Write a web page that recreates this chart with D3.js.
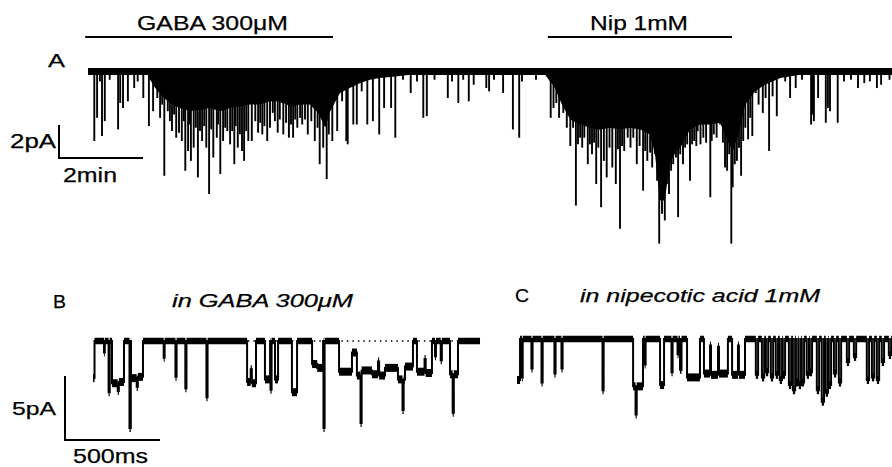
<!DOCTYPE html>
<html><head><meta charset="utf-8">
<script src="https://cdn.jsdelivr.net/npm/d3@7"></script>
<style>
body{margin:0;background:#fff}
svg{display:block}
text{font-family:"Liberation Sans",Arial,Helvetica,sans-serif;fill:#000;stroke:#000;stroke-width:0.25}
</style>
</head><body>
<svg id="chart" width="892" height="467"></svg>
<script>
// ---------- DATA ----------
// Panel A: whole-cell trace, time in s, amplitude in pA (negative = inward)
const aSpikes = [[9,-4.2],[13,-2.8],[17,-0.6],[20,-3.9],[24,-3.0],[31,-0.5],[43,-3.5],[46,-1.9],[50,-2.2],[57,-1.8],[66,-1.0],[71,-0.6],[79,-1.6],[87,-3.3],[93,-2.4],[99,-1.6],[103,-2.8],[106,-2.0],[109,-6.3],[114,-2.4],[117,-3.0],[120,-3.6],[123,-2.6],[126,-4.0],[130,-3.7],[134,-4.2],[137,-3.0],[139,-6.0],[143,-4.8],[145,-3.2],[147,-5.4],[151,-4.6],[154,-3.4],[157,-6.4],[160,-3.6],[163,-4.2],[166,-3.3],[169,-4.6],[173,-7.4],[176,-3.5],[179,-5.2],[184,-4.0],[186,-3.2],[189,-6.2],[193,-4.2],[196,-3.4],[199,-3.6],[203,-4.4],[206,-3.6],[209,-5.6],[211,-3.3],[214,-4.6],[217,-3.8],[220,-4.8],[223,-5.4],[226,-3.6],[229,-4.2],[234,-4.2],[239,-3.0],[243,-3.7],[246,-3.1],[249,-3.8],[252,-3.3],[256,-4.2],[260,-3.4],[264,-2.5],[267,-3.0],[271,-3.7],[274,-2.9],[277,-1.9],[279,-3.8],[283,-3.1],[287,-4.0],[290,-3.2],[293,-4.0],[296,-2.9],[299,-3.4],[303,-2.8],[306,-3.2],[310,-2.9],[314,-3.8],[319,-3.0],[324,-4.2],[328,-3.4],[331,-5.6],[336,-4.6],[341,-6.5],[344,-3.8],[349,-4.2],[356,-3.6],[363,-1.8],[369,-4.2],[371,-4.4],[379,-3.2],[384,-3.2],[391,-1.2],[399,-3.2],[407,-3.0],[416,-3.8],[423,-2.2],[433,-2.2],[439,-4.0],[450,-0.5],[461,-1.3],[470,-0.6],[479,-2.8],[484,-2.7],[495,-0.5],[514,-1.6],[520,-0.6],[529,-1.9],[536,-0.5],[544,-1.8],[551,-0.8],[569,-1.0],[573,-1.2],[580,-0.5],[593,-1.3],[607,-3.5],[616,-4.0],[620,-0.6],[640,-0.5],[661,-2.8],[665,-2.2],[669,-1.9],[673,-2.8],[679,-2.5],[684,-3.4],[689,-4.5],[693,-3.4],[697,-8.1],[700,-4.4],[703,-4.0],[706,-4.6],[709,-4.0],[714,-5.6],[717,-4.4],[720,-5.0],[723,-4.3],[726,-6.8],[729,-4.6],[733,-8.2],[737,-5.4],[741,-6.4],[745,-4.6],[749,-5.8],[754,-6.8],[757,-4.7],[760,-9.5],[763,-4.5],[766,-4.8],[771,-4.0],[775,-4.6],[779,-4.0],[784,-5.6],[788,-4.5],[793,-7.2],[796,-4.8],[799,-5.4],[803,-4.9],[806,-5.8],[810,-5.0],[813,-6.6],[816,-10.4],[818,-7.6],[820,-8.6],[822,-7.2],[824,-9.0],[827,-6.8],[830,-7.4],[833,-6.0],[836,-5.6],[840,-5.2],[843,-8.8],[846,-5.0],[850,-5.6],[853,-4.6],[856,-4.4],[860,-6.6],[863,-4.4],[866,-4.2],[869,-4.5],[871,-3.6],[875,-4.4],[879,-4.0],[883,-4.3],[889,-7.6],[891,-4.2],[894,-3.8],[898,-4.0],[903,-3.2],[907,-4.3],[910,-5.8],[913,-6.0],[916,-5.0],[919,-10.4],[921,-7.0],[924,-5.6],[927,-5.4],[930,-4.6],[933,-6.3],[936,-4.2],[939,-3.4],[943,-4.1],[946,-2.8],[949,-3.9],[954,-1.3],[958,-2.0],[964,-2.5],[968,-1.6],[973,-4.8],[978,-1.5],[984,-2.7],[996,-0.6],[1003,-1.6],[1011,-1.0],[1020,-0.5],[1033,-3.2],[1035,-2.6],[1037,-3.0],[1043,-1.6],[1054,-3.1],[1057,-2.2],[1060,-2.4],[1071,-3.1],[1080,-0.6],[1090,-0.5],[1100,-1.0],[1109,-0.7],[1117,-0.6],[1127,-1.0],[1133,-0.8],[1145,-0.5]];
// envelopes of unresolved (summed) openings during drug application
const aDenseGABA = [[86,-0.3],[96,-1.0],[106,-1.5],[117,-1.9],[131,-2.2],[146,-2.4],[160,-2.3],[174,-2.2],[189,-2.4],[203,-2.2],[217,-2.1],[231,-2.0],[246,-2.0],[260,-1.8],[274,-1.8],[289,-2.1],[303,-2.0],[317,-2.0],[329,-2.5],[339,-3.4],[346,-2.4],[360,-1.3],[374,-1.0],[389,-0.7],[403,-0.5],[417,-0.4],[439,-0.3],[460,-0.2]];
const aDenseNip = [[653,-0.2],[667,-1.0],[677,-2.0],[689,-2.9],[703,-3.2],[717,-3.4],[731,-3.5],[746,-3.4],[760,-3.5],[774,-3.4],[789,-3.5],[803,-3.8],[810,-5.0],[817,-7.8],[824,-7.8],[831,-5.6],[839,-4.9],[846,-4.6],[860,-3.5],[874,-3.2],[889,-3.2],[903,-3.1],[914,-4.2],[921,-4.8],[929,-3.8],[939,-2.0],[953,-1.2],[967,-0.8],[989,-0.4],[1017,-0.2]];
const aDuration = 1150;           // s
const drugNames  = ["GABA 300μM", "Nip 1mM"];
const drugStarts = [-4, 657];     // s
const drugEnds   = [350, 920];    // s

// Panel B: single-channel record in GABA, [start ms, end ms, level pA]
const bEvents = [[0,8,-2.9],[58,62,-0.9],[82,88,-4.0],[100,130,-3.3],[130,136,-3.9],[136,163,-3.2],[192,199,-6.8],[200,230,-2.9],[230,236,-3.6],[236,263,-2.8],[372,377,-1.3],[434,440,-2.8],[486,492,-3.7],[597,603,-4.4],[811,830,-3.2],[830,836,-2.2],[836,858,-3.3],[905,932,-3.0],[934,940,-3.8],[958,974,-3.0],[1047,1074,-4.0],[1153,1180,-1.8],[1180,1211,-2.1],[1213,1219,-6.8],[1295,1363,-2.4],[1363,1389,-0.9],[1389,1408,-2.7],[1408,1414,-6.4],[1414,1468,-2.3],[1468,1500,-2.6],[1500,1506,-1.6],[1506,1537,-2.7],[1537,1605,-2.1],[1605,1629,-3.0],[1629,1635,-5.4],[1635,1642,-3.0],[1642,1684,-2.0],[1705,1745,-2.4],[1745,1751,-1.4],[1751,1784,-2.5],[1800,1805,-1.2],[1830,1836,-1.5],[1879,1893,-2.6],[1893,1899,-5.6],[1899,1921,-2.6]];
const bDuration = 2037;           // ms
const bDottedFrom = 815, bDottedTo = 1990;

// Panel C: single-channel record in nipecotic acid, [start ms, end ms, level pA]
const cEvents = [[0,16,-3.2],[26,30,-3.0],[76,82,-2.3],[129,135,-3.4],[197,203,-2.7],[234,240,-2.3],[450,456,-4.0],[611,624,-3.7],[624,630,-5.9],[630,663,-3.7],[672,677,-2.0],[753,774,-3.6],[813,819,-2.6],[845,850,-1.2],[858,866,-2.4],[895,963,-3.0],[984,1016,-2.7],[1016,1021,-0.5],[1021,1058,-2.8],[1058,1063,-0.6],[1063,1110,-2.7],[1132,1163,-2.8],[1163,1168,-0.5],[1168,1200,-2.8],[1257,1269,-2.8],[1289,1301,-3.0],[1310,1322,-2.6],[1336,1348,-3.0],[1362,1374,-2.8],[1383,1395,-3.2],[1399,1411,-2.8],[1431,1443,-3.6],[1452,1464,-4.0],[1468,1480,-3.4],[1483,1495,-3.6],[1499,1511,-3.4],[1525,1537,-2.8],[1541,1553,-2.6],[1578,1590,-4.0],[1604,1616,-4.9],[1625,1637,-4.2],[1641,1653,-3.6],[1668,1680,-2.7],[1694,1706,-3.4],[1736,1748,-1.8],[1773,1785,-1.4],[1841,1853,-3.2],[1868,1880,-3.0],[1894,1906,-3.2],[1920,1932,-1.8],[1957,1969,-1.25]];
const cDuration = 2000;           // ms

// scale bar values
const aBarPA = 2, aBarMin = 2;
const bBarPA = 5, bBarMs = 500;

// ---------- DRAWING ----------
const svg = d3.select("#chart");

// Panel A scales
const xA = d3.scaleLinear().domain([0, aDuration]).range([88, 893]);
const yA = d3.scaleLinear().domain([0, -10]).range([71.5, 237]);

// drug bars + labels
drugNames.forEach((name, i) => {
  svg.append("line").attr("x1", xA(drugStarts[i])).attr("x2", xA(drugEnds[i]))
    .attr("y1", 37).attr("y2", 37).attr("stroke", "#000").attr("stroke-width", 2);
});
svg.append("text").attr("x", 137).attr("y", 30).attr("font-size", 21)
  .attr("textLength", 151).attr("lengthAdjust", "spacingAndGlyphs").text(drugNames[0]);
svg.append("text").attr("x", 590).attr("y", 30).attr("font-size", 21)
  .attr("textLength", 98).attr("lengthAdjust", "spacingAndGlyphs").text(drugNames[1]);

svg.append("text").attr("x", 48).attr("y", 67).attr("font-size", 19)
  .attr("textLength", 17).attr("lengthAdjust", "spacingAndGlyphs").text("A");

const gA = svg.append("g");
const areaA = d3.area().x(d => xA(d[0])).y0(yA(0)).y1(d => yA(d[1]));
[aDenseGABA, aDenseNip].forEach(env => {
  gA.append("path").datum(env).attr("d", areaA).attr("fill", "#000");
});
gA.selectAll("line.spk").data(aSpikes).join("line").attr("class", "spk")
  .attr("x1", d => xA(d[0])).attr("x2", d => xA(d[0]))
  .attr("y1", yA(0)).attr("y2", d => yA(d[1]))
  .attr("stroke", "#000").attr("stroke-width", 1.9);
gA.append("line").attr("x1", xA(0)).attr("x2", xA(aDuration))
  .attr("y1", yA(0)).attr("y2", yA(0)).attr("stroke", "#000").attr("stroke-width", 7);

// scale bar A
const sbA = {x: 59, y: 158};
svg.append("path").attr("fill", "none").attr("stroke", "#000").attr("stroke-width", 2)
  .attr("d", `M${sbA.x},${sbA.y - (yA(-aBarPA) - yA(0))}V${sbA.y}H${sbA.x + xA(aBarMin * 60) - xA(0)}`);
svg.append("text").attr("x", 56).attr("y", 148).attr("font-size", 20).attr("text-anchor", "end")
  .attr("textLength", 46).attr("lengthAdjust", "spacingAndGlyphs").text(aBarPA + "pA");
svg.append("text").attr("x", 63).attr("y", 182).attr("font-size", 20)
  .attr("textLength", 54).attr("lengthAdjust", "spacingAndGlyphs").text(aBarMin + "min");

// single-channel step traces
function segmentsOf(events, tEnd) {
  const pts = []; let t = 0;
  events.forEach(([t0, t1, lv]) => { if (t0 > t) pts.push([t, 0]); pts.push([t0, lv]); t = t1; });
  if (t < tEnd) pts.push([t, 0]);
  pts.push([tEnd, 0]);
  return pts;
}
function drawTrace(events, tEnd, x, y) {
  const pts = segmentsOf(events, tEnd);
  const g = svg.append("g");
  // noise band on each stable level
  for (let i = 0; i < pts.length - 1; i++) {
    g.append("line").attr("x1", x(pts[i][0])).attr("x2", x(pts[i + 1][0]))
      .attr("y1", y(pts[i][1])).attr("y2", y(pts[i][1]))
      .attr("stroke", "#000").attr("stroke-width", pts[i][1] === 0 ? 6.5 : 8);
  }
  g.append("path").datum(pts)
    .attr("d", d3.line().x(d => x(d[0])).y(d => y(d[1])).curve(d3.curveStepAfter))
    .attr("fill", "none").attr("stroke", "#000").attr("stroke-width", 2);
}

// Panel B
const xB = d3.scaleLinear().domain([0, 2000]).range([93, 473]);
const yB = d3.scaleLinear().domain([0, -5]).range([341, 405]);
svg.append("line").attr("x1", xB(bDottedFrom)).attr("x2", xB(bDottedTo))
  .attr("y1", yB(0)).attr("y2", yB(0)).attr("stroke", "#000")
  .attr("stroke-width", 1.5).attr("stroke-dasharray", "1.5,4");
drawTrace(bEvents, bDuration, xB, yB);
svg.append("text").attr("x", 53).attr("y", 308).attr("font-size", 19)
  .attr("textLength", 13).attr("lengthAdjust", "spacingAndGlyphs").text("B");
svg.append("text").attr("x", 172).attr("y", 307).attr("font-size", 19).attr("font-style", "italic")
  .attr("textLength", 181).attr("lengthAdjust", "spacingAndGlyphs").text("in GABA 300μM");

// scale bar B
const sbB = {x: 65, y: 440};
svg.append("path").attr("fill", "none").attr("stroke", "#000").attr("stroke-width", 2)
  .attr("d", `M${sbB.x},${sbB.y - (yB(-bBarPA) - yB(0))}V${sbB.y}H${sbB.x + xB(bBarMs) - xB(0)}`);
svg.append("text").attr("x", 56).attr("y", 415).attr("font-size", 19).attr("text-anchor", "end")
  .attr("textLength", 44).attr("lengthAdjust", "spacingAndGlyphs").text(bBarPA + "pA");
svg.append("text").attr("x", 73).attr("y", 463).attr("font-size", 21)
  .attr("textLength", 75).attr("lengthAdjust", "spacingAndGlyphs").text(bBarMs + "ms");

// Panel C
const xC = d3.scaleLinear().domain([0, 2000]).range([517, 897]);
const yC = d3.scaleLinear().domain([0, -5]).range([339, 403]);
drawTrace(cEvents, cDuration, xC, yC);
svg.append("text").attr("x", 515).attr("y", 302).attr("font-size", 19)
  .attr("textLength", 14).attr("lengthAdjust", "spacingAndGlyphs").text("C");
svg.append("text").attr("x", 580).attr("y", 302).attr("font-size", 19).attr("font-style", "italic")
  .attr("textLength", 240).attr("lengthAdjust", "spacingAndGlyphs").text("in nipecotic acid 1mM");
</script>
</body></html>
